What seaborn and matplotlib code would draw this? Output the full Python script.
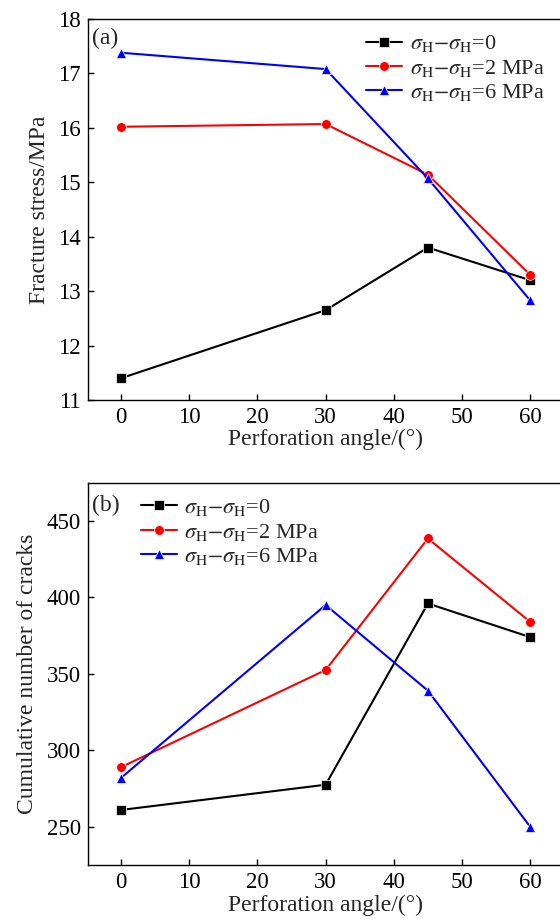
import matplotlib
matplotlib.use("Agg")
import matplotlib.pyplot as plt
import seaborn as sns
import pandas as pd

angles = [0, 30, 45, 60]
series_labels = [r"$\sigma_{\rm H}$$-$$\sigma_{\rm H}$=0",
                 r"$\sigma_{\rm H}$$-$$\sigma_{\rm H}$=2 MPa",
                 r"$\sigma_{\rm H}$$-$$\sigma_{\rm H}$=6 MPa"]
stress_0 = [11.4, 12.65, 13.8, 13.2]
stress_2 = [16.02, 16.07, 15.14, 13.3]
stress_6 = [17.38, 17.08, 15.07, 12.83]
cracks_0 = [261, 277.5, 396, 374]
cracks_2 = [289, 352.5, 438.5, 384]
cracks_6 = [282, 395, 339, 250]

colors = ["#000000", "#ff0000", "#0000ff"]
markers = ["s", "o", "^"]

sns.set_theme(style="ticks")
plt.rcParams["font.family"] = ["Liberation Serif", "DejaVu Serif"]
plt.rcParams["mathtext.fontset"] = "stix"
plt.rcParams["xtick.direction"] = "in"
plt.rcParams["ytick.direction"] = "in"


def long_df(vals):
    rows = []
    for lab, v in zip(series_labels, vals):
        for a, y in zip(angles, v):
            rows.append({"angle": a, "value": y, "series": lab})
    return pd.DataFrame(rows)


fig = plt.figure(figsize=(5.6, 9.22), dpi=100)
ax1 = fig.add_axes([0.1566, 0.5662, 0.851, 0.4132])
ax2 = fig.add_axes([0.1566, 0.0618, 0.851, 0.4147])

for ax, vals, ylabel, ylim, yticks, tag, tagy, legbbox in [
    (ax1, [stress_0, stress_2, stress_6], "Fracture stress/MPa", (11, 18),
     range(11, 19), "(a)", 0.976, (0.585, 0.962)),
    (ax2, [cracks_0, cracks_2, cracks_6], "Cumulative number of cracks", (225, 475),
     range(250, 451, 50), "(b)", 0.968, (0.112, 0.962)),
]:
    df = long_df(vals)
    sns.lineplot(data=df, x="angle", y="value", hue="series", style="series",
                 palette=colors, markers=markers, dashes=False, markersize=7,
                 markeredgewidth=0.5, linewidth=1.5, ax=ax)
    ax.set_xlim(-4.9, 65)
    ax.set_ylim(*ylim)
    ax.set_xticks(range(0, 61, 10))
    ax.set_yticks(list(yticks))
    ax.set_xlabel("Perforation angle/(°)", fontsize=17, labelpad=1)
    ax.set_ylabel(ylabel, fontsize=17, labelpad=6)
    ax.tick_params(labelsize=16.5, length=4.5, width=1, colors="black", pad=5)
    for s in ax.spines.values():
        s.set_linewidth(1.0)
        s.set_color("black")
    ax.text(0.01, tagy, tag, transform=ax.transAxes, fontsize=17, va="top", ha="left")
    ax.legend(loc="upper left", bbox_to_anchor=legbbox, frameon=False, fontsize=16,
              handlelength=1.6, handletextpad=0.35, labelspacing=0.15,
              borderaxespad=0, borderpad=0)

fig.savefig("out.png", dpi=100)
